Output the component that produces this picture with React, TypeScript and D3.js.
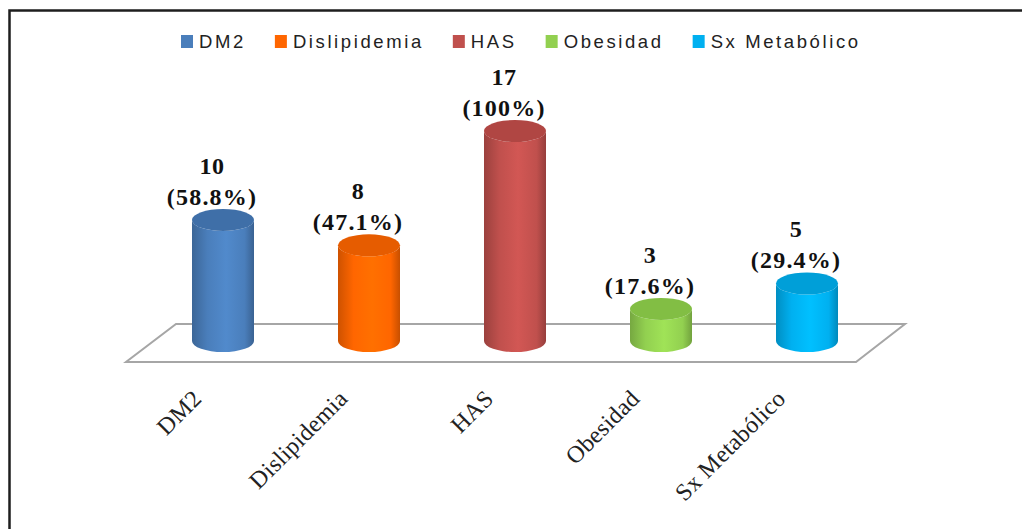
import React, { useEffect, useRef } from "react";
import * as d3 from "d3";

const categories = ["DM2", "Dislipidemia", "HAS", "Obesidad", "Sx Metabólico"];
const counts = [10, 8, 17, 3, 5];
const percents = ["(58.8%)", "(47.1%)", "(100%)", "(17.6%)", "(29.4%)"];
const colors = ["#4A7EBB", "#FF6600", "#C0504D", "#92D050", "#00B0F0"];
const topColors = ["#3F6FA8", "#E65C00", "#B04643", "#82BE44", "#009FD8"];

const W = 1022;
const H = 529;

export default function App() {
  const ref = useRef<SVGSVGElement | null>(null);

  useEffect(() => {
    const svg = d3.select(ref.current);
    svg.selectAll("*").remove();

    const defs = svg.append("defs");
    colors.forEach((c, i) => {
      const g = defs
        .append("linearGradient")
        .attr("id", "cyl" + i)
        .attr("x1", "0%")
        .attr("x2", "100%")
        .attr("y1", "0%")
        .attr("y2", "0%");
      const base = d3.color(c)!;
      g.append("stop").attr("offset", "0%").attr("stop-color", base.darker(0.6).formatHex());
      g.append("stop").attr("offset", "25%").attr("stop-color", base.formatHex());
      g.append("stop").attr("offset", "55%").attr("stop-color", base.brighter(0.25).formatHex());
      g.append("stop").attr("offset", "85%").attr("stop-color", base.formatHex());
      g.append("stop").attr("offset", "100%").attr("stop-color", base.darker(0.7).formatHex());
    });

    // background and border
    svg.append("rect").attr("x", 0).attr("y", 0).attr("width", W).attr("height", H).attr("fill", "#fff");
    svg
      .append("rect")
      .attr("x", 9.5)
      .attr("y", 10.5)
      .attr("width", W + 20)
      .attr("height", H + 20)
      .attr("fill", "none")
      .attr("stroke", "#1e1e1e")
      .attr("stroke-width", 2.5);

    // legend
    const legend = svg.append("g");
    let lx = 181;
    categories.forEach((c, i) => {
      legend
        .append("rect")
        .attr("x", lx)
        .attr("y", 35)
        .attr("width", 12)
        .attr("height", 13)
        .attr("fill", colors[i]);
      const t = legend
        .append("text")
        .attr("x", lx + 18)
        .attr("y", 48)
        .attr("font-family", "'Liberation Sans', Arial, sans-serif")
        .attr("font-size", 18.5)
        .attr("letter-spacing", 2.6)
        .attr("fill", "#222")
        .text(c);
      const w = (t.node() as SVGTextElement).getComputedTextLength();
      lx = lx + 18 + w + 29;
    });

    // floor
    const backY = 324;
    const frontY = 362;
    svg
      .append("path")
      .attr("d", `M176,${backY} L905,${backY} L856,${frontY} L126,${frontY} Z`)
      .attr("fill", "#fff")
      .attr("stroke", "#a6a6a6")
      .attr("stroke-width", 2);

    const x = d3.scalePoint<string>().domain(categories).range([223, 807]);
    const y = d3.scaleLinear().domain([0, 17]).range([347, 131]);
    const baseY = 341;
    const rx = 31;
    const ry = 11;

    categories.forEach((c, i) => {
      const cx = x(c)!;
      const ty = y(counts[i]);
      const g = svg.append("g");
      g.append("path")
        .attr(
          "d",
          `M${cx - rx},${ty} L${cx - rx},${baseY} A${rx},${ry} 0 0 0 ${cx + rx},${baseY} L${cx + rx},${ty} A${rx},${ry} 0 0 1 ${cx - rx},${ty} Z`
        )
        .attr("fill", `url(#cyl${i})`);
      g.append("ellipse")
        .attr("cx", cx)
        .attr("cy", ty)
        .attr("rx", rx)
        .attr("ry", ry)
        .attr("fill", topColors[i]);

      const topEdge = ty - ry;
      const lxc = cx - 11;
      g.append("text")
        .attr("x", lxc)
        .attr("y", topEdge - 35)
        .attr("text-anchor", "middle")
        .attr("font-family", "'Liberation Serif', 'Times New Roman', serif")
        .attr("font-weight", "bold")
        .attr("font-size", 24)
        .attr("letter-spacing", 0.5)
        .attr("fill", "#111")
        .text(String(counts[i]));
      g.append("text")
        .attr("x", lxc)
        .attr("y", topEdge - 4)
        .attr("text-anchor", "middle")
        .attr("font-family", "'Liberation Serif', 'Times New Roman', serif")
        .attr("font-weight", "bold")
        .attr("font-size", 24)
        .attr("letter-spacing", 1.2)
        .attr("fill", "#111")
        .text(percents[i]);

      // axis label
      const ax = cx - 20;
      const ay = 400;
      svg
        .append("text")
        .attr("transform", `translate(${ax},${ay}) rotate(-45)`)
        .attr("text-anchor", "end")
        .attr("font-family", "'Liberation Serif', 'Times New Roman', serif")
        .attr("font-size", 24)
        .attr("letter-spacing", 0.3)
        .attr("fill", "#222")
        .text(c);
    });
  }, []);

  return (
    <svg
      ref={ref}
      width={W}
      height={H}
      style={{ position: "fixed", left: 0, top: 0, display: "block" }}
    />
  );
}
